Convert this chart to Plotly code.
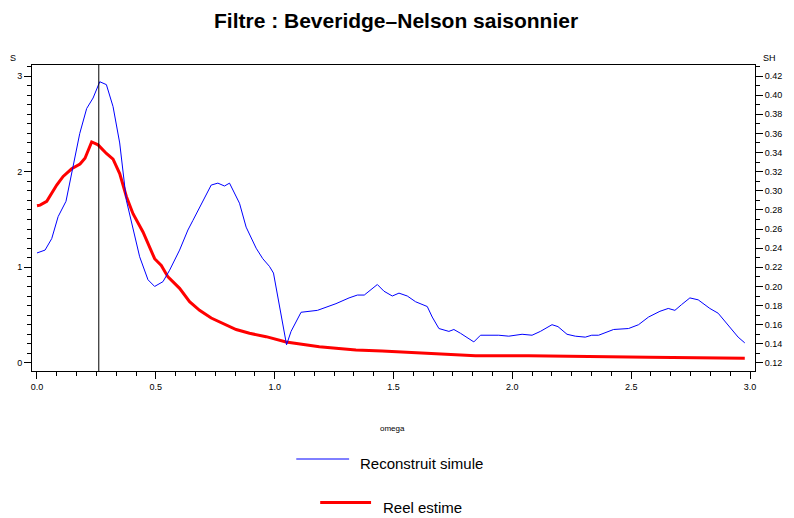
import plotly.graph_objects as go

# ---------------- data ----------------
omega_blue = [0.0, 0.034, 0.062, 0.089, 0.122, 0.152, 0.180, 0.209, 0.236, 0.264,
              0.292, 0.320, 0.348, 0.376, 0.404, 0.432, 0.467, 0.495, 0.530, 0.558,
              0.600, 0.635, 0.656, 0.698, 0.733, 0.761, 0.789, 0.810, 0.852, 0.880,
              0.922, 0.950, 0.978, 0.995, 1.013, 1.050, 1.069, 1.111, 1.180, 1.258,
              1.313, 1.348, 1.377, 1.432, 1.460, 1.495, 1.523, 1.558, 1.593, 1.642,
              1.663, 1.691, 1.733, 1.754, 1.782, 1.838, 1.866, 1.943, 1.985, 2.041,
              2.083, 2.118, 2.167, 2.192, 2.230, 2.265, 2.307, 2.334, 2.363, 2.426,
              2.489, 2.531, 2.573, 2.621, 2.656, 2.684, 2.712, 2.747, 2.782, 2.831,
              2.866, 2.908, 2.950, 2.978]
sh_blue = [0.235, 0.238, 0.250, 0.273, 0.289, 0.325, 0.360, 0.386, 0.397, 0.414,
           0.411, 0.388, 0.350, 0.290, 0.259, 0.231, 0.207, 0.200, 0.205, 0.217,
           0.238, 0.259, 0.269, 0.290, 0.306, 0.308, 0.305, 0.308, 0.287, 0.262,
           0.240, 0.229, 0.221, 0.214, 0.189, 0.139, 0.153, 0.173, 0.175, 0.182,
           0.188, 0.191, 0.191, 0.202, 0.195, 0.190, 0.193, 0.190, 0.184, 0.179,
           0.168, 0.156, 0.153, 0.155, 0.151, 0.142, 0.149, 0.149, 0.148, 0.150,
           0.149, 0.153, 0.160, 0.158, 0.150, 0.148, 0.147, 0.149, 0.149, 0.155,
           0.156, 0.160, 0.168, 0.174, 0.177, 0.175, 0.181, 0.188, 0.186, 0.177,
           0.172, 0.160, 0.147, 0.141]

omega_red = [0.0, 0.013, 0.041, 0.083, 0.110, 0.146, 0.181, 0.202, 0.230, 0.257,
             0.292, 0.320, 0.348, 0.376, 0.404, 0.446, 0.495, 0.523, 0.551, 0.600,
             0.642, 0.684, 0.733, 0.782, 0.838, 0.894, 0.964, 1.048, 1.118, 1.188,
             1.258, 1.342, 1.452, 1.565, 1.677, 1.845, 2.069, 2.223, 2.573, 2.978]
s_red = [1.644, 1.65, 1.69, 1.86, 1.95, 2.03, 2.08, 2.14, 2.31, 2.28,
         2.19, 2.13, 1.98, 1.74, 1.56, 1.37, 1.09, 1.02, 0.90, 0.78,
         0.64, 0.55, 0.47, 0.415, 0.35, 0.31, 0.275, 0.22, 0.195, 0.17,
         0.153, 0.136, 0.125, 0.112, 0.094, 0.076, 0.076, 0.07, 0.06, 0.049]

vline_omega = 0.26
x_ticks = [0.0, 0.5, 1.0, 1.5, 2.0, 2.5, 3.0]
y_ticks = [0, 1, 2, 3]
y2_ticks = [0.12, 0.14, 0.16, 0.18, 0.20, 0.22, 0.24, 0.26, 0.28, 0.30,
            0.32, 0.34, 0.36, 0.38, 0.40, 0.42]

# ---------------- figure ----------------
FONT = "Liberation Sans, Arial, sans-serif"
yr = [-0.084, 3.115]
y2r = [0.12 + 0.1 * yr[0], 0.12 + 0.1 * yr[1]]

fig = go.Figure()
fig.add_trace(go.Scatter(x=omega_blue, y=sh_blue, mode="lines", yaxis="y2",
                         line=dict(color="#0000FF", width=1), name="Reconstruit simule",
                         showlegend=False))
fig.add_trace(go.Scatter(x=omega_red, y=s_red, mode="lines",
                         line=dict(color="#FF0000", width=3), name="Reel estime",
                         showlegend=False))

fig.add_shape(type="line", xref="x", yref="paper", x0=vline_omega, x1=vline_omega,
              y0=0, y1=1, line=dict(color="black", width=1))

W, H = 794, 518
L, R, T, B = 32, 757, 65, 371
def px(xp):
    return (xp - L) / (R - L)
def py(yp):
    return (B - yp) / (B - T)

# manual legend
fig.add_shape(type="line", xref="paper", yref="paper", x0=px(297), x1=px(350),
              y0=py(459), y1=py(459), line=dict(color="#0000FF", width=1))
fig.add_shape(type="line", xref="paper", yref="paper", x0=px(321), x1=px(372),
              y0=py(502.5), y1=py(502.5), line=dict(color="#FF0000", width=3))

annots = [
    dict(text="<b>Filtre : Beveridge\u2013Nelson saisonnier</b>", x=px(397), y=py(20),
         xanchor="center", yanchor="middle", font=dict(size=21, color="black")),
    dict(text="S", x=px(13), y=py(58), xanchor="center", yanchor="middle",
         font=dict(size=9, color="black")),
    dict(text="SH", x=px(772), y=py(58), xanchor="center", yanchor="middle",
         font=dict(size=9, color="black")),
    dict(text="omega", x=px(393), y=py(428), xanchor="center", yanchor="middle",
         font=dict(size=8, color="black")),
    dict(text="Reconstruit simule", x=px(359), y=py(463), xanchor="left", yanchor="middle",
         font=dict(size=15, color="black")),
    dict(text="Reel estime", x=px(382), y=py(507), xanchor="left", yanchor="middle",
         font=dict(size=15, color="black")),
]
for a in annots:
    a.update(xref="paper", yref="paper", showarrow=False)
    fig.add_annotation(**a)

fig.update_layout(
    width=W, height=H,
    margin=dict(l=L, r=W - R, t=T, b=H - B, pad=0),
    plot_bgcolor="white", paper_bgcolor="white",
    font=dict(family=FONT, color="black", size=9),
    showlegend=False,
    xaxis=dict(range=[-0.021, 3.021], tickvals=x_ticks, ticktext=[f"{v:.1f}" for v in x_ticks],
               ticks="outside", ticklen=7, tickcolor="black", tickwidth=1,
               minor=dict(dtick=0.5 / 6, tick0=0, ticks="outside", ticklen=4,
                          tickcolor="black", showgrid=False),
               showline=True, linecolor="black", linewidth=1, mirror=True,
               showgrid=False, zeroline=False, tickfont=dict(size=9)),
    yaxis=dict(range=yr, tickvals=y_ticks, ticktext=[str(v) for v in y_ticks],
               ticks="outside", ticklen=7, tickcolor="black", tickwidth=1,
               minor=dict(dtick=0.1, tick0=0, ticks="outside", ticklen=4,
                          tickcolor="black", showgrid=False),
               showline=True, linecolor="black", linewidth=1,
               showgrid=False, zeroline=False, tickfont=dict(size=9)),
    yaxis2=dict(range=y2r, overlaying="y", side="right", tickvals=y2_ticks,
                ticktext=[f"{v:.2f}" for v in y2_ticks],
                ticks="outside", ticklen=7, tickcolor="black", tickwidth=1,
                minor=dict(dtick=0.01, tick0=0, ticks="outside", ticklen=4,
                           tickcolor="black", showgrid=False),
                showline=True, linecolor="black", linewidth=1,
                showgrid=False, zeroline=False, tickfont=dict(size=9)),
)

fig.write_html("out.html")
